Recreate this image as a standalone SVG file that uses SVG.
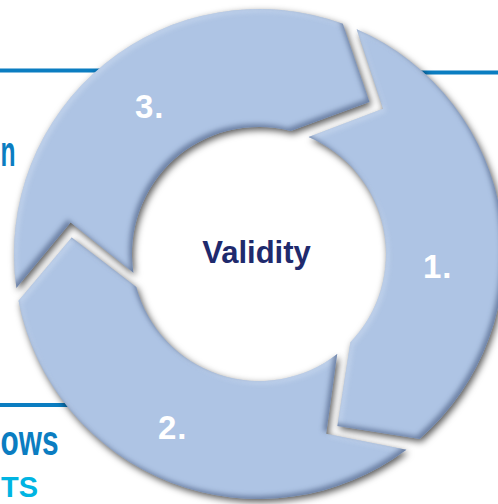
<svg xmlns="http://www.w3.org/2000/svg" width="498" height="504" viewBox="0 0 498 504">
<style>
.rule{stroke:#0b7dc1;stroke-width:4;fill:none}
.side{font-family:"Liberation Sans",Arial,sans-serif;font-weight:bold;fill:#0b7dc1}
.num{font-family:"Liberation Sans",Arial,sans-serif;font-weight:bold;font-size:33px;fill:#ffffff;letter-spacing:1px}
.seg{fill:#aec4e4;filter:url(#bevel)}
.title{font-family:"Liberation Sans",Arial,sans-serif;font-weight:bold;font-size:31px;fill:#1f2a6d}
</style>
<defs>
<filter id="bevel" x="-15%" y="-15%" width="130%" height="130%" color-interpolation-filters="sRGB">
  <feGaussianBlur in="SourceAlpha" stdDeviation="3.5" result="blur"/>
  <feOffset in="blur" dx="2" dy="3" result="sh"/>
  <feFlood flood-color="#000000" flood-opacity="0.65"/>
  <feComposite in2="sh" operator="in" result="shadow"/>
  <feGaussianBlur in="SourceAlpha" stdDeviation="2.5" result="b2"/>
  <feOffset in="b2" dx="-3" dy="-3" result="o2"/>
  <feComposite in="SourceAlpha" in2="o2" operator="out" result="edge"/>
  <feFlood flood-color="#62769a" flood-opacity="0.85"/>
  <feComposite in2="edge" operator="in" result="shade"/>
  <feOffset in="b2" dx="3" dy="3" result="o3"/>
  <feComposite in="SourceAlpha" in2="o3" operator="out" result="edge2"/>
  <feFlood flood-color="#d6e3f5" flood-opacity="0.45"/>
  <feComposite in2="edge2" operator="in" result="hl"/>
  <feMerge>
    <feMergeNode in="shadow"/>
    <feMergeNode in="SourceGraphic"/>
    <feMergeNode in="hl"/>
    <feMergeNode in="shade"/>
  </feMerge>
</filter>
</defs>
<rect width="498" height="504" fill="#ffffff"/>
<g id="background">
  <line class="rule" x1="0" y1="70.5" x2="110" y2="70.5"/>
  <line class="rule" x1="410" y1="72.5" x2="498" y2="72.5"/>
  <line class="rule" x1="0" y1="405" x2="80" y2="405"/>
  <text class="side" x="0.5" y="166" font-size="42" textLength="15" lengthAdjust="spacingAndGlyphs">n</text>
  <text class="side" x="0.5" y="455" font-size="42" textLength="58" lengthAdjust="spacingAndGlyphs">ows</text>
  <text class="side" x="1" y="497" font-size="30" textLength="37" lengthAdjust="spacingAndGlyphs" style="fill:#00b4e2">TS</text>
</g>
<g id="connectors"></g>
<g id="seg1">
  <path class="seg" d="M356.7,29.3 A245,245 0 0 1 419.7,438.9 L337.4,426.0 L350.4,342.2 A127,127 0 0 0 308.6,137.1 L383.0,108.8 Z"/>
  <text class="num" x="423" y="278">1.</text>
</g>
<g id="seg2">
  <path class="seg" d="M406.4,449.7 A245,245 0 0 1 18.5,300.7 L71.7,237.6 L136.3,286.9 A127,127 0 0 0 337.2,354.1 L326.2,433.8 Z"/>
  <text class="num" x="158" y="439">2.</text>
</g>
<g id="seg3">
  <path class="seg" d="M16.4,288.1 A245,245 0 0 1 342.8,23.8 L369.5,101.9 L290.8,131.0 A127,127 0 0 0 133.4,272.8 L70.6,222.5 Z"/>
  <text class="num" x="135" y="118">3.</text>
</g>
<g id="center">
  <text class="title" x="256.5" y="262.5" text-anchor="middle">Validity</text>
</g>
</svg>
